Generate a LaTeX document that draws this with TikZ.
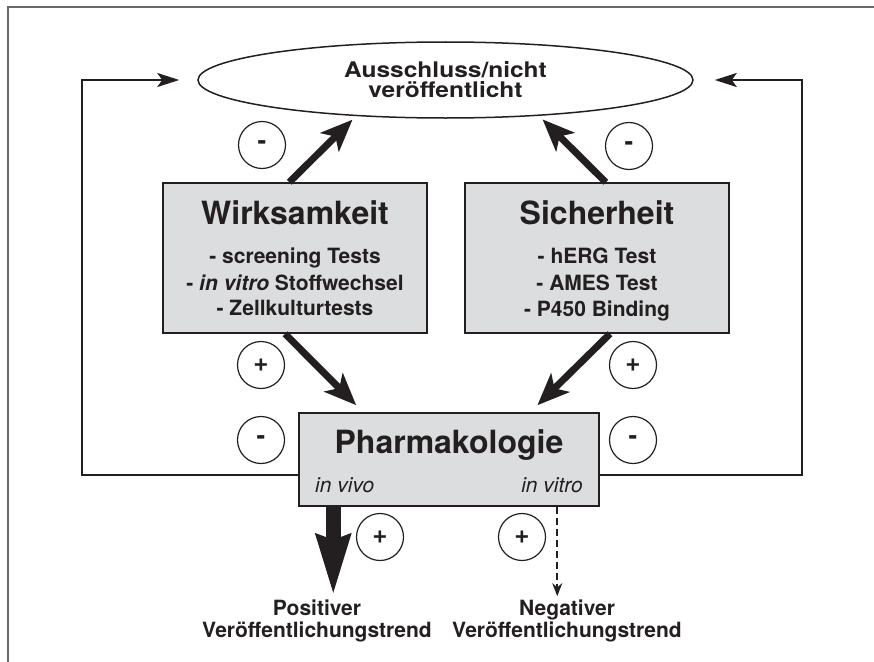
\documentclass[tikz,border=0pt]{standalone}
\usepackage{graphicx}
\usepackage{fontspec}
\setmainfont{TeX Gyre Heros}
\usetikzlibrary{arrows.meta,shapes.geometric}
\definecolor{ink}{RGB}{35,31,32}
\definecolor{boxfill}{RGB}{220,221,222}
\definecolor{framegray}{RGB}{105,105,105}
\newcommand{\widetext}[1]{\scalebox{1.14}[1]{#1}}
\tikzset{
  box/.style={draw=ink, line width=1.5pt, fill=boxfill, rectangle, inner sep=0},
  title/.style={anchor=base, font=\fontsize{32}{33}\selectfont\bfseries, text=ink, inner sep=0},
  item/.style={anchor=base, font=\fontsize{21}{22}\selectfont\bfseries, text=ink, inner sep=0},
  sub/.style={font=\fontsize{21}{22}\selectfont\itshape, text=ink, inner sep=0},
  sign/.style={circle, draw=ink, line width=1.2pt, minimum size=47pt, inner sep=0, font=\fontsize{26}{26}\selectfont\bfseries, text=ink},
  thickarrow/.style={draw=ink, line width=7pt, -{Stealth[length=32pt,width=26pt,inset=8pt]}},
  loopline/.style={draw=ink, line width=2.2pt, -{Stealth[length=22pt,width=14pt,inset=5pt]}},
  bigarrow/.style={draw=ink, line width=15pt, -{Stealth[length=60pt,width=32pt,inset=4pt]}},
  dasharrow/.style={draw=ink, line width=1.8pt, dash pattern=on 7pt off 4pt, -{Stealth[length=13pt,width=10pt]}},
}
\begin{document}
\begin{tikzpicture}[x=1pt,y=-1pt]
\useasboundingbox (0,0) rectangle (874,661);
\clip (0,0) rectangle (874,661);
\draw[framegray, line width=1.5pt] (8,7) rectangle (900,700);

% nodes
\node[ellipse, draw=ink, line width=1.5pt, minimum width=495pt, minimum height=76pt, inner sep=0, align=center,
      font=\fontsize{21.5}{20}\selectfont\bfseries, text=ink] (ell) at (445.5,80) {\widetext{Ausschluss/nicht}\\\widetext{veröffentlicht}};

\node[box, minimum width=264pt, minimum height=150pt] (wirk) at (295,258) {};
\node[title] (wirkt) at (295,224) {Wirksamkeit};
\node[item] (wirk1) at (295,263) {- screening Tests};
\node[item] (wirk2) at (295,290) {- \textit{in vitro} Stoffwechsel};
\node[item] (wirk3) at (295,315.5) {- Zellkulturtests};

\node[box, minimum width=264pt, minimum height=150pt] (sich) at (597,258) {};
\node[title] (sicht) at (597,224) {Sicherheit};
\node[item] (sich1) at (597,263) {- hERG Test};
\node[item] (sich2) at (597,290) {- AMES Test};
\node[item] (sich3) at (597,316.5) {- P450 Binding};

\node[box, minimum width=300pt, minimum height=93pt] (pharm) at (449,459.5) {};
\node[title] (pharmt) at (449,453) {Pharmakologie};
\node[sub, anchor=base west] (vivo) at (315,492) {in vivo};
\node[sub, anchor=base east] (vitro) at (583,492) {in vitro};

\node[sign] (s1) at (262,145) {-};
\node[sign] (s2) at (629,146) {-};
\node[sign] (s3) at (261,365) {+};
\node[sign] (s4) at (633,365) {+};
\node[sign] (s5) at (261,440) {-};
\node[sign] (s6) at (633,440) {-};
\node[sign] (s7) at (380,537) {+};
\node[sign] (s8) at (522,537) {+};

\node[item] (pos1) at (317,615) {Positiver};
\node[item] (pos2) at (317,637) {Veröffentlichungstrend};
\node[item] (neg1) at (567,615) {Negativer};
\node[item] (neg2) at (567,637) {Veröffentlichungstrend};

% connectors
\draw[thickarrow, shorten >=5pt] ([xshift=127pt]wirk.north west) -- (ell.202);
\draw[thickarrow, shorten >=5pt] ([xshift=-124pt]sich.north east) -- (ell.339);
\draw[thickarrow, shorten >=10pt] ([xshift=-10pt]wirk.south) -- ([xshift=65pt]pharm.north west);
\draw[thickarrow, shorten >=10pt] ([xshift=13pt]sich.south) -- ([xshift=232pt]pharm.north west);

\draw[loopline] ([yshift=-15.5pt]pharm.west) -| ([xshift=-115pt]ell.west) -- ([xshift=-18pt]ell.west);
\draw[loopline] ([yshift=-15.5pt]pharm.east) -| ([xshift=108pt]ell.east) -- ([xshift=21pt]ell.east);

\coordinate (pa) at ([xshift=35pt]pharm.south west);
\coordinate (pb) at ([xshift=259pt]pharm.south west);
\draw[bigarrow, shorten >=3pt] (pa) -- (pa |- pos1.north);
\draw[dasharrow, shorten >=3pt] (pb) -- (pb |- neg1.north);
\end{tikzpicture}
\end{document}
